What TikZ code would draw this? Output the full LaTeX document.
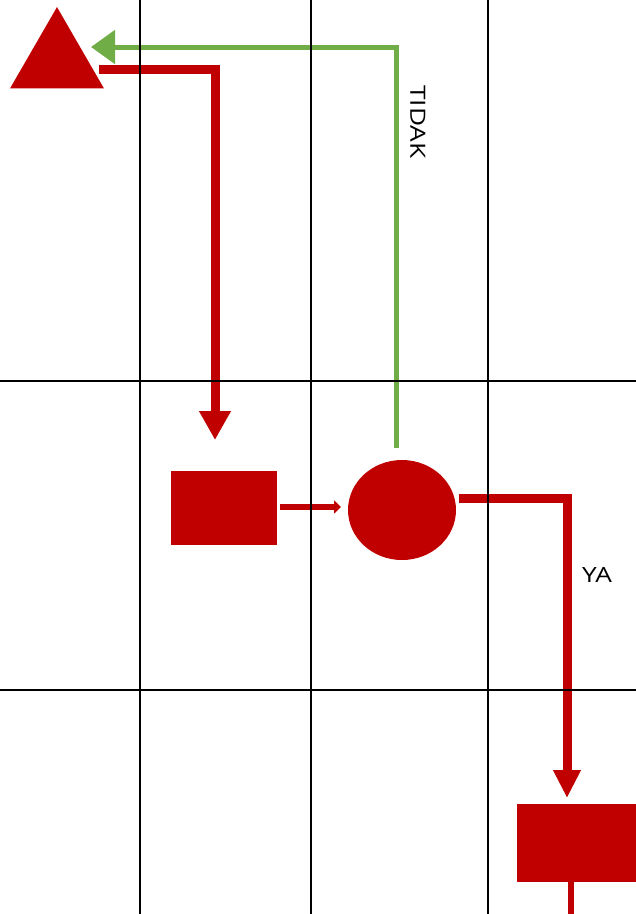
\documentclass[tikz,border=0pt]{standalone}
\usepackage{fontspec}
\setmainfont{Open Sans}
\newfontfamily\lblfont[FakeStretch=1.25]{Open Sans}
\usetikzlibrary{arrows.meta,shapes.geometric}
\definecolor{dred}{HTML}{C00000}
\definecolor{lgreen}{HTML}{70AD47}
\begin{document}
\begin{tikzpicture}[x=1pt,y=-1pt,
  shapefill/.style={fill=dred,draw=none,inner sep=0pt,outer sep=0pt},
  redflow/.style={draw=dred,line width=9pt,-{Triangle[length=29pt,width=30pt]}},
  greenflow/.style={draw=lgreen,line width=5pt,-{Triangle[length=24pt,width=33pt]}},
  smallflow/.style={draw=dred,line width=6pt,-{Triangle[length=7pt,width=13pt]}},
  gridv/.style={draw=black,line width=2pt},
  gridh/.style={draw=black,line width=1.4pt},
  lbl/.style={font=\lblfont\fontsize{21}{24}\selectfont,text=black,inner sep=0pt}]
\useasboundingbox (0,0) rectangle (636,914);
% shapes
\node[shapefill,regular polygon,regular polygon sides=3,minimum size=108.5pt] (tri) at (57,61.3) {};
\node[shapefill,rectangle,minimum width=106pt,minimum height=74pt] (box1) at (224,508) {};
\node[shapefill,ellipse,minimum width=108pt,minimum height=100pt] (dec) at (402,510) {};
\node[shapefill,rectangle,minimum width=119pt,minimum height=78pt] (box2) at (576.5,843) {};
% connectors
\coordinate (t1) at (99,69);
\coordinate (t1b) at (215,440);
\draw[redflow] (t1) -| (t1b);
\coordinate (g0) at (396,448);
\coordinate (g1) at (91,47);
\draw[greenflow] (g0) |- (g1);
\draw[smallflow,shorten <=3pt,shorten >=7pt] (box1.east |- 0,507) -- (dec.west |- 0,507);
\coordinate (r0) at (459,498);
\coordinate (r1) at (567,798);
\draw[redflow,-{Triangle[length=28pt,width=26pt]}] (r0) -| (r1);
\coordinate (bend) at (571,914);
\draw[draw=dred,line width=6pt] (box2.south -| bend) -- (bend);
% labels
\node[lbl,rotate=-90] (tidak) at (418,122) {TIDAK};
\node[lbl] (ya) at (597,575) {YA};
% grid
\draw[gridv] (140,0) -- (140,914);
\draw[gridv] (311,0) -- (311,914);
\draw[gridv] (488,0) -- (488,914);
\draw[gridh] (0,381) -- (636,381);
\draw[gridh] (0,690) -- (636,690);
\end{tikzpicture}
\end{document}
